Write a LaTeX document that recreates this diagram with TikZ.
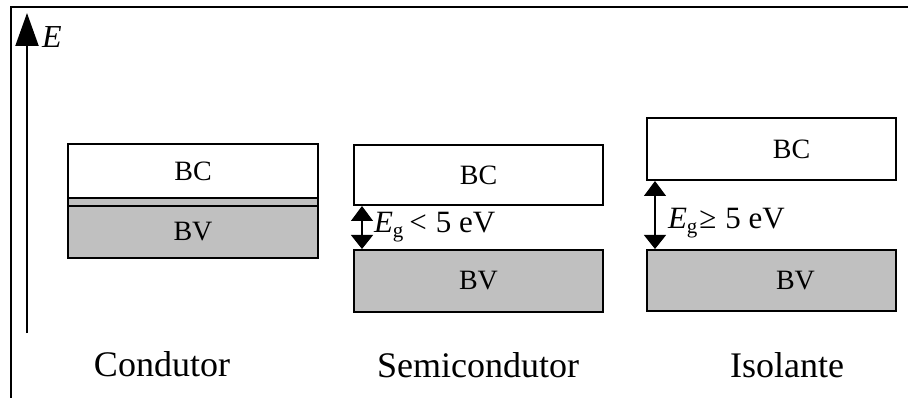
\documentclass[tikz,border=0pt]{standalone}
\usepackage{fontspec}
\setmainfont{Liberation Serif}
\usetikzlibrary{arrows.meta,positioning}
\definecolor{BandGray}{HTML}{C0C0C0}
\newcommand{\gapsub}{\raisebox{-5pt}{\fontsize{21}{21}\selectfont g}}

\begin{document}
\begin{tikzpicture}[x=1pt, y=-1pt, line width=2pt,
    band/.style={draw, anchor=north west, inner sep=0pt, minimum width=250pt, font=\fontsize{28}{30}\selectfont},
    valence/.style={band, fill=BandGray},
    gaparrow/.style={line width=1.2pt, {Triangle[width=22pt,length=14pt]}-{Triangle[width=22pt,length=15pt]}},
    gaplabel/.style={anchor=base west, inner sep=0pt, font=\fontsize{31}{33}\selectfont},
    material/.style={anchor=base, inner sep=0pt, font=\fontsize{36}{40}\selectfont}]
    \useasboundingbox (0,0) rectangle (908,398);
    % frame
    \draw (11,398) -- (11,7) -- (908,7);
    % energy axis
    \coordinate (ebot) at (27,333);
    \coordinate (etop) at (27,13);
    \draw[-{Triangle[width=23pt,length=33pt]}] (ebot) -- (etop);
    \node[anchor=base west, inner sep=0pt, font=\fontsize{32}{34}\selectfont] (elabel) at (41,48) {\itshape E};
    % condutor
    \node[band, minimum height=54pt] (bc1) at (67,143) {BC};
    \node[valence, minimum height=8pt] (ovl1) at (67,197) {};
    \node[valence, minimum height=52pt] (bv1) at (67,205) {BV};
    % semicondutor
    \node[band, minimum width=249pt, minimum height=60pt] (bc2) at (353,144) {BC};
    \node[valence, minimum width=249pt, minimum height=62pt] (bv2) at (353,249) {BV};
    \draw[gaparrow] ([xshift=9pt]bv2.north west) -- ([xshift=9pt]bc2.south west);
    \node[gaplabel] (eg2) at (373,233) {{\itshape E}\gapsub\hspace{6pt}<\hspace{9pt}5 eV};
    % isolante
    \node[band, minimum width=249pt, minimum height=62pt, label={[xshift=20pt, font=\fontsize{28}{30}\selectfont]center:BC}] (bc3) at (646,117) {};
    \node[valence, minimum width=249pt, minimum height=61pt, label={[xshift=24pt, font=\fontsize{28}{30}\selectfont]center:BV}] (bv3) at (646,249) {};
    \draw[gaparrow] ([xshift=9pt]bv3.north west) -- ([xshift=9pt]bc3.south west);
    \node[gaplabel] (eg3) at (667,229) {{\itshape E}\gapsub\hspace{2pt}≥\hspace{9pt}5 eV};
    % material names
    \node[material] (cond) at (162,376) {Condutor};
    \node[material] (semi) at (478,377) {Semicondutor};
    \node[material] (isol) at (787,377) {Isolante};
\end{tikzpicture}
\end{document}
